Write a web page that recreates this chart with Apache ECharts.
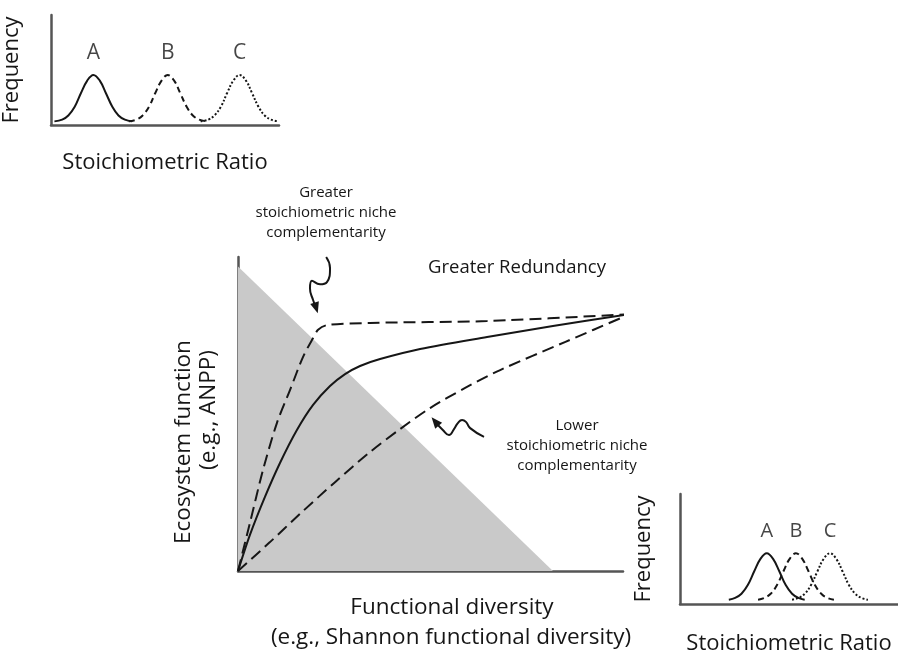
<!DOCTYPE html>
<html><head><meta charset="utf-8">
<script src="https://cdn.jsdelivr.net/npm/echarts@6/dist/echarts.min.js"></script>
<style>html,body{margin:0;padding:0;background:#fff}#c{width:898px;height:658px}</style>
</head><body><div id="c"></div>
<script>
// ---------- main panel (conceptual units 0-100) ----------
const singularityTriangle = [[0,97],[81.8,0]];
const upperDashed = [[0,0],[3.1,15.3],[6.5,32.2],[10.1,47.1],[13.5,57.6],[16.9,68.2],[19.5,74.2],[20.8,76.8],[23.1,78.3],[34.3,79.0],[64.7,79.6],[101.8,81.8]];
const solidCurve = [[0,0],[3.1,11.5],[7.0,23.6],[10.9,34.4],[15.3,44.9],[19.5,52.9],[23.9,58.9],[27.8,62.7],[31.7,65.3],[36.9,67.5],[47.3,70.7],[64.7,74.5],[81.8,78.0],[101.8,81.8]];
const lowerDashed = [[0,0],[8.3,9.2],[16.1,18.2],[25.2,28.3],[34.3,37.9],[42.1,45.2],[49.9,51.9],[59.0,58.3],[68.1,64.0],[84.9,72.9],[101.8,81.8]];
const arrowGreater = [[22.9,100],[23.9,96.5],[23.1,92.0],[21.3,91.3],[19.2,92.4],[18.7,90.0],[19.5,86.3],[20.3,83.8]];
const arrowLower = [[63.9,42.7],[60.3,45.5],[59.2,47.5],[58.2,48.1],[57.1,47.1],[56.1,45.2],[54.8,43.3],[53.2,44.9],[51.2,47.6]];

// ---------- top-left inset ----------
const topA = [[1.5,3.3],[4.9,4.9],[7.6,8.7],[10.4,16.6],[13.1,28.9],[15.9,40.4],[18.6,45.5],[21.4,40.4],[24.1,28.9],[26.9,16.6],[29.6,8.7],[32.4,4.9],[35.6,3.3]];
const topB = [[34.1,3.3],[37.5,4.9],[40.2,8.7],[43.0,16.6],[45.7,28.9],[48.5,40.4],[51.2,45.5],[54.0,40.4],[56.7,28.9],[59.5,16.6],[62.2,8.7],[65.0,4.9],[68.2,3.3]];
const topC = [[65.6,3.3],[69.0,4.9],[71.7,8.7],[74.5,16.6],[77.2,28.9],[80.0,40.4],[82.7,45.5],[85.5,40.4],[88.2,28.9],[91.0,16.6],[93.7,8.7],[96.5,4.9],[99.8,3.3]];
const topLabelPos = [[18.6,65.5],[51.2,65.5],[82.7,65.5]];

// ---------- bottom-right inset ----------
const botA = [[22.4,3.9],[25.3,5.5],[28.2,9.3],[31.1,17.2],[34.0,29.5],[36.9,41.0],[39.8,46.1],[42.7,41.0],[45.6,29.5],[48.5,17.2],[51.4,9.3],[54.3,5.5],[57.2,3.9]];
const botB = [[35.8,3.9],[38.7,5.5],[41.6,9.3],[44.5,17.2],[47.4,29.5],[50.3,41.0],[53.2,46.1],[56.1,41.0],[59.0,29.5],[61.9,17.2],[64.8,9.3],[67.7,5.5],[70.6,3.9]];
const botC = [[51.4,3.9],[54.3,5.5],[57.2,9.3],[60.1,17.2],[63.0,29.5],[65.9,41.0],[68.8,46.1],[71.7,41.0],[74.6,29.5],[77.5,17.2],[80.4,9.3],[83.3,5.5],[86.2,3.9]];
const botLabelPos = [[39.8,65.7],[53.2,65.7],[68.8,65.7]];

const peakLetters = ['A','B','C'];

const FONT = '"Open Sans", "Noto Sans", sans-serif';
const INK = '#161616';
const AXIS = '#555';

function axis(gi, name, nameGap, isY, fontSize) {
  return {
    type: 'value', gridIndex: gi, min: 0, max: 100,
    name: name, nameLocation: 'middle', nameGap: nameGap, nameRotate: isY ? 90 : 0,
    nameTextStyle: { fontFamily: FONT, fontSize: fontSize, color: INK },
    axisLine: { show: true, onZero: false, lineStyle: { color: AXIS, width: 2.5 } },
    axisTick: { show: false }, axisLabel: { show: false }, splitLine: { show: false }
  };
}
function curve(data, gi, dash, width, sm) {
  return {
    type: 'line', xAxisIndex: gi, yAxisIndex: gi, data: data,
    symbol: 'none', smooth: sm, clip: false, silent: true,
    lineStyle: { color: INK, width: width, type: dash }, z: 3
  };
}
function arrow(data, rot) {
  const d = data.map((p, i) => i === data.length - 1
    ? { value: p, symbol: 'triangle', symbolSize: [9, 11], symbolRotate: rot, itemStyle: { color: INK } }
    : { value: p });
  return {
    type: 'line', xAxisIndex: 0, yAxisIndex: 0, data: d, symbol: 'none', showSymbol: true,
    smooth: 0.5, clip: false, silent: true, lineStyle: { color: INK, width: 2 }, z: 4
  };
}
function letters(pos, gi, size) {
  return {
    type: 'scatter', xAxisIndex: gi, yAxisIndex: gi, symbolSize: 1, silent: true,
    itemStyle: { color: 'rgba(0,0,0,0)' },
    data: pos.map((p, i) => ({ name: peakLetters[i], value: p })),
    label: { show: true, position: 'inside', formatter: '{b}', fontFamily: FONT, fontSize: size, color: INK }
  };
}
function txt(x, y, text, size, color, rot) {
  return {
    type: 'text', x: x, y: y, rotation: rot || 0, silent: true,
    style: { text: text, font: size + 'px ' + FONT, fill: color || INK,
      align: 'center', verticalAlign: 'middle', textAlign: 'center', textVerticalAlign: 'middle' }
  };
}

const chart = echarts.init(document.getElementById('c'), null, { renderer: 'canvas' });
chart.setOption({
  animation: false,
  backgroundColor: '#fff',
  grid: [
    { left: 238, top: 257, width: 385, height: 314 },
    { left: 49, top: 15, width: 230, height: 110 },
    { left: 680, top: 494, width: 218, height: 110 }
  ],
  xAxis: [
    axis(0, '', 0, false, 22),
    axis(1, 'Stoichiometric Ratio', 27, false, 22),
    axis(2, 'Stoichiometric Ratio', 29, false, 22)
  ],
  yAxis: [
    axis(0, '', 0, true, 22),
    axis(1, 'Frequency', 28, true, 22),
    axis(2, 'Frequency', 25, true, 22)
  ],
  series: [
    { type: 'line', xAxisIndex: 0, yAxisIndex: 0, data: singularityTriangle, symbol: 'none', silent: true,
      lineStyle: { width: 0 }, areaStyle: { color: '#c9c9c9', opacity: 1 }, z: 1 },
    curve(upperDashed, 0, [12, 6], 2, 0.3),
    curve(solidCurve, 0, 'solid', 2, 0.3),
    curve(lowerDashed, 0, [12, 6], 2, 0.3),
    arrow(arrowGreater, 197),
    arrow(arrowLower, 40),
    curve(topA, 1, 'solid', 2, 0.4),
    curve(topB, 1, [6, 4], 2, 0.4),
    curve(topC, 1, [2, 2], 2, 0.4),
    letters(topLabelPos, 1, 21),
    curve(botA, 2, 'solid', 2, 0.4),
    curve(botB, 2, [6, 4], 2, 0.4),
    curve(botC, 2, [2, 2], 2, 0.4),
    letters(botLabelPos, 2, 20)
  ],
  graphic: [
    txt(326, 193, 'Greater', 15),
    txt(326, 213, 'stoichiometric niche', 15),
    txt(326, 233, 'complementarity', 15),
    txt(517, 268, 'Greater Redundancy', 18.5),
    txt(577, 426, 'Lower', 15),
    txt(577, 446, 'stoichiometric niche', 15),
    txt(577, 466, 'complementarity', 15),
    txt(405, 540, 'Greater Singularity', 18.5, '#444'),
    txt(184, 442, 'Ecosystem function', 22.5, INK, Math.PI / 2),
    txt(209, 410, '(e.g., ANPP)', 22.5, INK, Math.PI / 2),
    txt(452, 608, 'Functional diversity', 22.5),
    txt(451, 638, '(e.g., Shannon functional diversity)', 22.5)
  ]
});
</script></body></html>
